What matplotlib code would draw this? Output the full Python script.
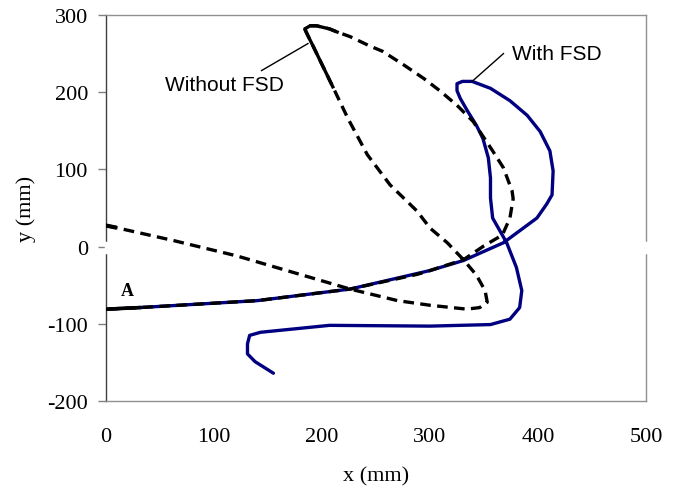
import matplotlib
matplotlib.use("Agg")
import matplotlib.pyplot as plt

plt.rcParams["axes.unicode_minus"] = False

# path without FSD (dashed)
wo_x = [1, 8, 62, 121, 226, 270, 300, 334, 346, 353, 351, 343, 331, 316, 300,
        288, 263, 242, 224, 210, 201, 192, 186, 184, 189, 195, 207, 214, 226,
        244, 256, 275, 294, 309, 325, 340, 349, 358, 368, 376, 377, 374, 367,
        350, 331, 300, 288, 226, 140, 31, 1]
wo_y = [27, 25, 8, -12, -55, -70, -76, -81, -79, -72, -57, -37, -17, 5, 24,
        46, 80, 119, 166, 207, 233, 259, 276, 282, 286, 286, 282, 278, 272,
        260, 253, 236, 218, 202, 183, 162, 143, 124, 102, 72, 62, 37, 15,
        1, -17, -31, -36, -55, -70, -79, -81]

# path with FSD (solid blue)
w_x = [0, 31, 140, 226, 300, 331, 368, 399, 408, 413, 414, 411, 402, 390,
       374, 356, 339, 330, 325, 325, 328, 335, 343, 349, 354, 356, 356, 358,
       371, 380, 385, 383, 374, 356, 300, 207, 143, 133, 131, 131, 138, 155]
w_y = [-81, -79, -70, -55, -31, -18, 5, 37, 55, 67, 98, 124, 149, 170,
       189, 205, 214, 214, 211, 202, 192, 175, 157, 140, 115, 89, 63, 37,
       5, -27, -57, -79, -94, -101, -103, -102, -111, -115, -126, -139, -149, -164]

x_ticks = [0, 100, 200, 300, 400, 500]
y_ticks = [-200, -100, 0, 100, 200, 300]

serif = "Liberation Serif"
sans = "Liberation Sans"

fig = plt.figure(figsize=(6.79, 4.89), dpi=100)
ax = fig.add_axes([106 / 679, 87 / 489, 540 / 679, 386 / 489])

ax.plot(w_x, w_y, color="#000080", lw=2.4, solid_joinstyle="round",
        solid_capstyle="round", zorder=2)
ax.plot(wo_x, wo_y, color="black", lw=2.4, dashes=(3.2, 1.9), zorder=3)
# dense points near the start, the peak and A make the dashes look solid there
ax.plot(wo_x[:2], wo_y[:2], color="black", lw=3, zorder=3)
ax.plot(wo_x[19:28], wo_y[19:28], color="black", lw=2.4, zorder=3,
        solid_joinstyle="round")
ax.plot(wo_x[-2:], wo_y[-2:], color="black", lw=2.6, zorder=3)

ax.set_xlim(0, 500)
ax.set_ylim(-200, 300)
ax.set_xticks(x_ticks)
ax.set_yticks(y_ticks)
ax.tick_params(axis="x", length=0, pad=19, labelsize=16)
ax.tick_params(axis="y", length=6, width=1, color="#808080", pad=7, labelsize=16)
for lab in ax.get_xticklabels() + ax.get_yticklabels():
    lab.set_fontfamily(serif)

for side in ["top", "right", "bottom"]:
    ax.spines[side].set_color("#909090")
ax.spines["left"].set_color("#404040")
for sp in ax.spines.values():
    sp.set_linewidth(1)

# the white horizontal axis breaks the frame at y = 0
for xe in (0, 500):
    ax.plot([xe, xe], [5, -7], color="white", lw=2.5, zorder=4, clip_on=False)

ax.set_xlabel("x (mm)", fontfamily=serif, fontsize=16, labelpad=14)
ax.set_ylabel("y (mm)", fontfamily=serif, fontsize=16, labelpad=8)

ax.plot([144, 187], [228, 263], color="black", lw=1, zorder=3)
ax.text(55, 210, "Without FSD", fontfamily=sans, fontsize=15, va="center", ha="left")
ax.plot([368, 339], [250, 214], color="black", lw=1, zorder=3)
ax.text(376, 250, "With FSD", fontfamily=sans, fontsize=15, va="center", ha="left")
ax.text(20, -57, "A", fontfamily=serif, fontsize=13, fontweight="bold",
        va="center", ha="center")

fig.savefig("out.png", dpi=100)
